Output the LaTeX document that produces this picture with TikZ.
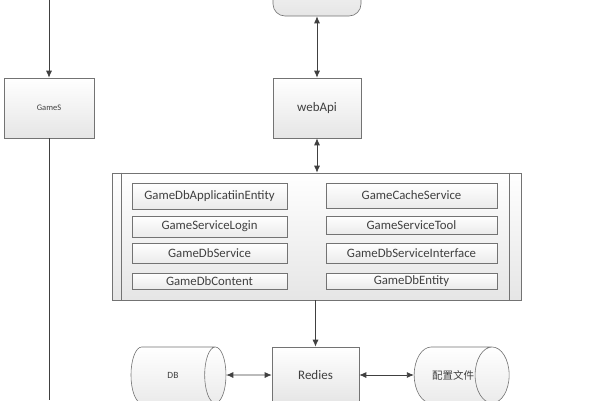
\documentclass[tikz,border=0pt]{standalone}
\usepackage{fontspec}
\setmainfont{Carlito}
\newfontfamily\cjk{Noto Sans CJK SC}
\usetikzlibrary{arrows.meta,shapes.geometric,calc}

\begin{document}
\begin{tikzpicture}[x=1pt,y=-1pt,line width=0.6pt]
    \tikzstyle{box}=[draw=black!55,top color=white,bottom color=black!10,inner sep=0pt,font=\fontsize{13}{14}\selectfont,text=black!75]
    \tikzstyle{item}=[box,bottom color=black!8,font=\fontsize{12.8}{13}\selectfont]
    \tikzstyle{store}=[cylinder,draw=black!55,top color=white,bottom color=black!8,shape aspect=3.5,minimum width=56pt,minimum height=95pt,inner sep=0pt,text=black!75]
    \tikzstyle{link}=[draw=black!75,line width=0.8pt,-{Latex[length=7pt,width=6pt]}]
    \tikzstyle{both}=[link,{Latex[length=7pt,width=6pt]}-{Latex[length=7pt,width=6pt]}]
    \clip (0,0) rectangle (600,400);
    \fill[white] (0,0) rectangle (600,400);
    % top row
    \node[box,rounded corners=12pt,minimum width=88pt,minimum height=60pt] (client) at (317,-14) {};
    \node[box,minimum width=88pt,minimum height=60pt] (webApi) at (317,108) {webApi};
    \node[box,minimum width=90pt,minimum height=60pt,font=\fontsize{8.5}{9}\selectfont] (GameS) at (49,108) {GameS};
    \coordinate (GameS_in) at (49,0);
    \coordinate (GameS_out) at (49,400);
    % service block
    \node[box,minimum width=409pt,minimum height=127pt] (service) at (316.5,236.5) {};
    \draw[black!55] ($(service.north west)+(10,0)$) -- ($(service.south west)+(10,0)$);
    \draw[black!55] ($(service.north east)+(-12,0)$) -- ($(service.south east)+(-12,0)$);
    \node[item,minimum width=155pt,minimum height=26pt] (S_1) at (209.5,196) {GameDbApplicatiinEntity};
    \node[item,minimum width=155pt,minimum height=21pt] (S_2) at (209.5,226.5) {GameServiceLogin};
    \node[item,minimum width=155pt,minimum height=20pt] (S_3) at (209.5,253) {GameDbService};
    \node[item,minimum width=155pt,minimum height=16pt] (S_4) at (209.5,281) {GameDbContent};
    \node[item,minimum width=171pt,minimum height=25pt] (S_5) at (411.5,195.5) {GameCacheService};
    \node[item,minimum width=171pt,minimum height=18pt] (S_6) at (411.5,225) {GameServiceTool};
    \node[item,minimum width=171pt,minimum height=20pt] (S_7) at (411.5,253) {GameDbServiceInterface};
    \node[item,minimum width=171pt,minimum height=16pt] (S_8) at (411.5,281) {GameDbEntity};
    % storage row
    \node[box,minimum width=87pt,minimum height=56pt] (Redies) at (315.5,375) {Redies};
    \node[store,font=\fontsize{9.5}{10}\selectfont] (DB) at (173,375) {DB};
    \node[store,font=\cjk\fontsize{10.5}{11}\selectfont] (config) at (453,375) {配置文件};
    \draw[link] (GameS_in) -- (GameS);
    \draw[black!75,line width=0.8pt] (GameS) -- (GameS_out);
    \draw[both] (client) -- (webApi);
    \draw[both] (webApi) -- (webApi |- service.north);
    \draw[link] (service.south -| Redies) -- (Redies);
    \draw[both] (DB) -- (Redies);
    \draw[both] (Redies) -- (config);
  \end{tikzpicture}
\end{document}
